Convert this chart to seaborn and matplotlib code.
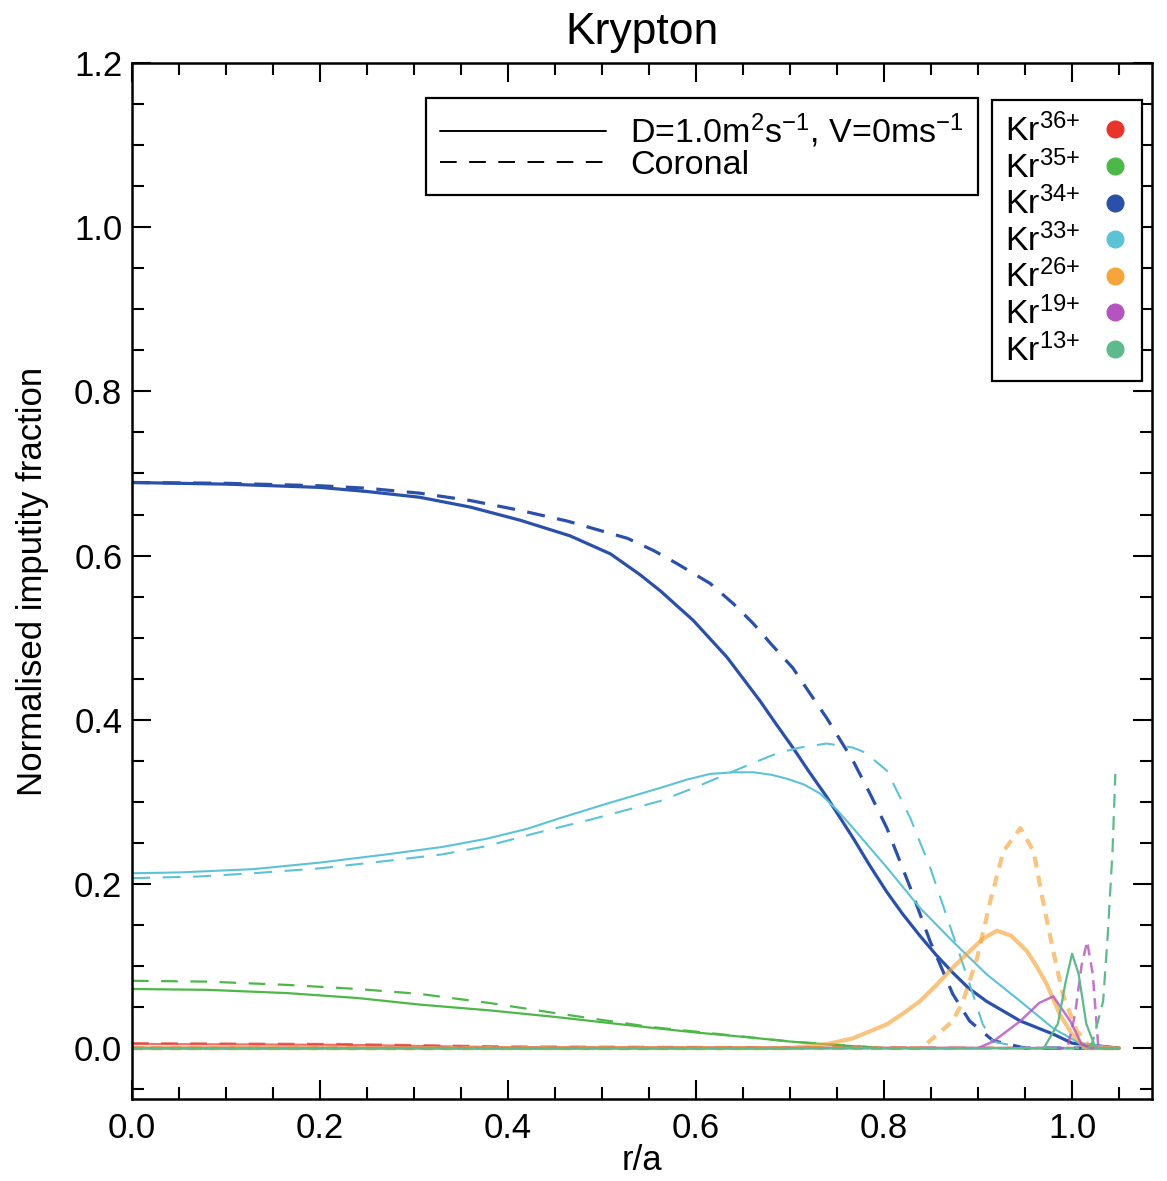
import matplotlib
matplotlib.use("Agg")
import matplotlib.pyplot as plt
from matplotlib.lines import Line2D
from matplotlib.ticker import MultipleLocator
import seaborn as sns
import pandas as pd

# ---------------- data ----------------
ions = ["Kr$^{36{+}}$", "Kr$^{35{+}}$", "Kr$^{34{+}}$", "Kr$^{33{+}}$",
        "Kr$^{26{+}}$", "Kr$^{19{+}}$", "Kr$^{13{+}}$"]
ion_colors = ["#e8352c", "#4db848", "#2b50aa", "#5cc3d6",
              "#f7a53a", "#b553c0", "#5dba8c"]

# Kr36+
r36_s = [0.0, 0.22, 0.40, 1.05]
y36_s = [0.005, 0.004, 0.001, 0.0]
r36_d = [0.0, 0.22, 0.40, 1.05]
y36_d = [0.006, 0.005, 0.002, 0.0]

# Kr35+
r35_s = [0.0, 0.08, 0.165, 0.24, 0.306, 0.38, 0.45, 0.551, 0.60, 0.657,
         0.70, 0.746, 0.80, 1.05]
y35_s = [0.072, 0.071, 0.067, 0.061, 0.053, 0.046, 0.038, 0.025, 0.019,
         0.013, 0.008, 0.004, 0.0, 0.0]
r35_d = [0.0, 0.08, 0.165, 0.24, 0.306, 0.38, 0.448, 0.55, 0.60, 0.65,
         0.70, 0.75, 0.80, 1.05]
y35_d = [0.082, 0.081, 0.077, 0.072, 0.066, 0.055, 0.043, 0.026, 0.020,
         0.014, 0.008, 0.004, 0.0, 0.0]

# Kr34+
r34_s = [0.0, 0.1, 0.2, 0.25, 0.306, 0.36, 0.413, 0.466, 0.509, 0.54,
         0.562, 0.597, 0.633, 0.668, 0.685, 0.703, 0.72, 0.739, 0.767,
         0.785, 0.803, 0.82, 0.838, 0.855, 0.873, 0.89, 0.909, 0.945,
         0.98, 1.0, 1.05]
y34_s = [0.689, 0.687, 0.683, 0.678, 0.671, 0.659, 0.643, 0.624, 0.602,
         0.577, 0.557, 0.521, 0.476, 0.423, 0.395, 0.366, 0.337, 0.306,
         0.256, 0.222, 0.190, 0.163, 0.137, 0.114, 0.092, 0.073, 0.057,
         0.033, 0.017, 0.006, 0.0]
r34_d = [0.0, 0.1, 0.2, 0.25, 0.306, 0.36, 0.413, 0.463, 0.527, 0.555,
         0.580, 0.615, 0.64, 0.661, 0.68, 0.703, 0.72, 0.739, 0.767,
         0.785, 0.803, 0.828, 0.849, 0.873, 0.891, 0.916, 0.95, 1.05]
y34_d = [0.689, 0.688, 0.685, 0.682, 0.676, 0.667, 0.655, 0.642, 0.621,
         0.606, 0.590, 0.566, 0.541, 0.517, 0.492, 0.463, 0.434, 0.402,
         0.350, 0.310, 0.268, 0.195, 0.130, 0.066, 0.033, 0.009, 0.0, 0.0]

# Kr33+
r33_s = [0.0, 0.05, 0.129, 0.2, 0.271, 0.33, 0.377, 0.42, 0.455, 0.5,
         0.562, 0.59, 0.615, 0.64, 0.661, 0.68, 0.697, 0.715, 0.732, 0.75,
         0.767, 0.785, 0.803, 0.838, 0.873, 0.909, 0.945, 0.98, 1.008, 1.05]
y33_s = [0.213, 0.214, 0.218, 0.226, 0.236, 0.245, 0.255, 0.267, 0.280,
         0.296, 0.317, 0.327, 0.334, 0.336, 0.336, 0.333, 0.328, 0.321,
         0.310, 0.290, 0.268, 0.244, 0.220, 0.171, 0.130, 0.090, 0.057,
         0.024, 0.006, 0.0]
r33_d = [0.0, 0.07, 0.129, 0.2, 0.271, 0.33, 0.377, 0.43, 0.49, 0.562,
         0.60, 0.633, 0.66, 0.686, 0.71, 0.739, 0.767, 0.78, 0.803, 0.828,
         0.849, 0.873, 0.891, 0.905, 0.916, 0.95, 1.05]
y33_d = [0.207, 0.209, 0.213, 0.219, 0.228, 0.236, 0.246, 0.262, 0.279,
         0.301, 0.318, 0.334, 0.347, 0.359, 0.366, 0.371, 0.366, 0.360,
         0.338, 0.280, 0.220, 0.139, 0.078, 0.029, 0.008, 0.0, 0.0]

# Kr26+
r26_s = [0.0, 0.70, 0.74, 0.767, 0.803, 0.82, 0.838, 0.855, 0.873, 0.89,
         0.905, 0.92, 0.935, 0.952, 0.962, 0.973, 0.987, 1.0, 1.014, 1.05]
y26_s = [0.0, 0.0, 0.005, 0.012, 0.029, 0.042, 0.057, 0.076, 0.098, 0.117,
         0.133, 0.143, 0.137, 0.118, 0.100, 0.078, 0.041, 0.017, 0.0, 0.0]
r26_d = [0.0, 0.84, 0.852, 0.873, 0.884, 0.899, 0.913, 0.927, 0.945,
         0.959, 0.969, 0.98, 0.99, 1.005, 1.02, 1.05]
y26_d = [0.0, 0.0, 0.012, 0.033, 0.057, 0.110, 0.179, 0.240, 0.268,
         0.240, 0.179, 0.118, 0.066, 0.021, 0.0, 0.0]

# Kr19+
r19_s = [0.0, 0.90, 0.916, 0.945, 0.965, 0.98, 0.998, 1.01, 1.02, 1.05]
y19_s = [0.0, 0.0, 0.008, 0.033, 0.055, 0.063, 0.033, 0.005, 0.0, 0.0]
r19_d = [0.0, 0.995, 1.003, 1.01, 1.016, 1.022, 1.028, 1.05]
y19_d = [0.0, 0.0, 0.04, 0.10, 0.13, 0.09, 0.0, 0.0]

# Kr13+
r13_s = [0.0, 0.97, 0.985, 0.993, 1.0, 1.007, 1.015, 1.025, 1.05]
y13_s = [0.0, 0.0, 0.03, 0.08, 0.115, 0.09, 0.03, 0.0, 0.0]
r13_d = [0.0, 1.018, 1.022, 1.033, 1.038, 1.043, 1.046]
y13_d = [0.0, 0.0, 0.008, 0.057, 0.139, 0.240, 0.334]

legend_labels = [r"D=1.0m$^2$s$^{-1}$, V=0ms$^{-1}$", "Coronal"]

# ---------------- style ----------------
sns.set_style("white")
plt.rcParams["font.family"] = ["Liberation Sans", "DejaVu Sans"]
plt.rcParams["mathtext.fontset"] = "custom"
plt.rcParams["mathtext.rm"] = "Liberation Sans"
plt.rcParams["mathtext.it"] = "Liberation Sans:italic"
plt.rcParams["mathtext.bf"] = "Liberation Sans:bold"
plt.rcParams["lines.scale_dashes"] = False
plt.rcParams["lines.solid_joinstyle"] = "round"
plt.rcParams["lines.dash_joinstyle"] = "round"
plt.rcParams["text.color"] = "black"
plt.rcParams["axes.labelcolor"] = "black"
plt.rcParams["xtick.color"] = "black"
plt.rcParams["ytick.color"] = "black"

fig = plt.figure(figsize=(11.67, 11.81), dpi=100)
ax = fig.add_axes([132 / 1167, 1 - 1099 / 1181, 1020 / 1167, 1036 / 1181])

series = [
    (r36_s, y36_s, r36_d, y36_d, 0, 1.6, 0.7),
    (r35_s, y35_s, r35_d, y35_d, 1, 1.6, 1.0),
    (r34_s, y34_s, r34_d, y34_d, 2, 2.3, 1.0),
    (r33_s, y33_s, r33_d, y33_d, 3, 1.5, 1.0),
    (r26_s, y26_s, r26_d, y26_d, 4, 3.0, 0.65),
    (r19_s, y19_s, r19_d, y19_d, 5, 1.8, 0.8),
    (r13_s, y13_s, r13_d, y13_d, 6, 1.6, 1.0),
]

dash_by_ion = {0: (0, (12, 9)), 1: (0, (12, 9)), 2: (0, (13, 9)),
               3: (0, (13, 9)), 4: (0, (8, 6)), 5: (0, (8, 5)),
               6: (0, (10, 6))}

for rs, ys, rd, yd, k, lw, al in series:
    df_s = pd.DataFrame({"r": rs, "f": ys})
    df_d = pd.DataFrame({"r": rd, "f": yd})
    sns.lineplot(data=df_d, x="r", y="f", ax=ax, color=ion_colors[k],
                 linewidth=lw, alpha=al, linestyle=dash_by_ion[k],
                 estimator=None, legend=False)
    sns.lineplot(data=df_s, x="r", y="f", ax=ax, color=ion_colors[k],
                 linewidth=lw, alpha=al, estimator=None, legend=False)

# ---------------- axes ----------------
ax.set_xlim(0.0, 1.085)
ax.set_ylim(-0.062, 1.2)
ax.xaxis.set_major_locator(MultipleLocator(0.2))
ax.xaxis.set_minor_locator(MultipleLocator(0.05))
ax.yaxis.set_major_locator(MultipleLocator(0.2))
ax.yaxis.set_minor_locator(MultipleLocator(0.05))
ax.xaxis.set_major_formatter(plt.FormatStrFormatter("%.1f"))
ax.yaxis.set_major_formatter(plt.FormatStrFormatter("%.1f"))
ax.tick_params(which="both", direction="in", top=True, right=True,
               bottom=True, left=True, color="black", width=1.5,
               labelsize=25, labelcolor="black")
ax.tick_params(which="major", length=14)
ax.tick_params(which="minor", length=8.5)
ax.tick_params(axis="x", which="major", pad=9)
ax.tick_params(axis="y", which="major", pad=7)
for sp in ax.spines.values():
    sp.set_color("black")
    sp.set_linewidth(1.8)

ax.set_xlabel("r/a", fontsize=25, labelpad=0)
ax.set_ylabel("Normalised imputity fraction", fontsize=25, labelpad=18)
ax.set_title("Krypton", fontsize=32, pad=14)

# ---------------- legends ----------------
style_handles = [Line2D([], [], color="black", linewidth=1.4),
                 Line2D([], [], color="black", linewidth=1.4,
                        linestyle=(0, (12, 9)))]
leg1 = ax.legend(style_handles, legend_labels, loc="upper right",
                 bbox_to_anchor=(0.829, 0.966), borderaxespad=0,
                 fontsize=24.5, handlelength=4.9, handletextpad=0.7,
                 labelspacing=0.0, borderpad=0.4, fancybox=False,
                 framealpha=1, edgecolor="black")
leg1.get_frame().set_linewidth(1.6)
ax.add_artist(leg1)

ion_handles = [Line2D([], [], marker="o", linestyle="none", color=c,
                      markersize=12) for c in ion_colors]
leg2 = ax.legend(ion_handles, ions, loc="upper right",
                 bbox_to_anchor=(0.99, 0.964), borderaxespad=0,
                 fontsize=24.5, markerfirst=False, handlelength=0.8,
                 handletextpad=0.6, labelspacing=0.06, borderpad=0.4,
                 fancybox=False, framealpha=1, edgecolor="black")
leg2.get_frame().set_linewidth(1.6)

fig.savefig("out.png", dpi=100)
